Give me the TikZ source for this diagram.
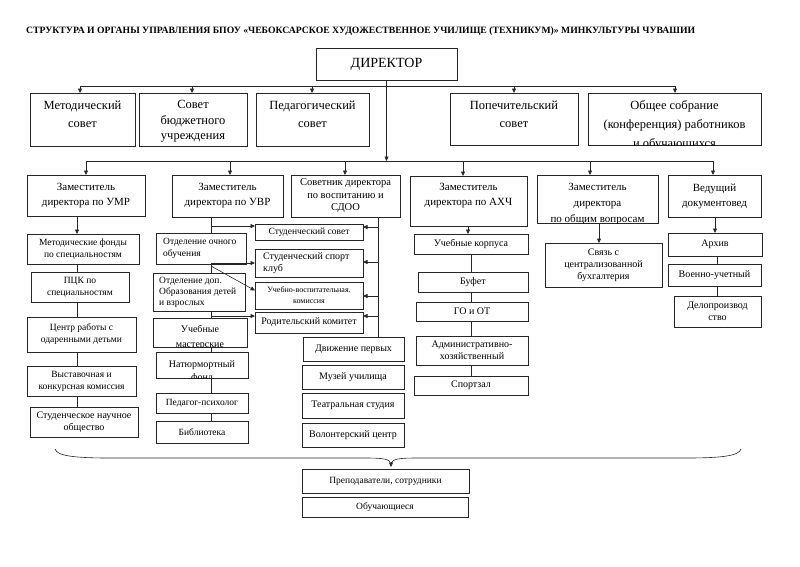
\documentclass[tikz,border=0pt]{standalone}
\usepackage{fontspec}
\setmainfont{Liberation Serif}
\usepackage{graphicx}
\usetikzlibrary{arrows.meta,calc}
\newcommand{\FSz}[2]{\fontsize{#1}{#2}\selectfont}
\newcommand{\OBox}[5]{\node[bx, minimum width={#4-#2}, minimum height={#5-#3}] (#1) at ({(#2+#4)/2},{(#3+#5)/2}) {};}
\begin{document}
\begin{tikzpicture}[x=1pt,y=-1pt,
  bx/.style={draw=black!85, line width=0.6pt, fill=white, inner sep=0pt, outer sep=0pt},
  tx/.style={inner sep=0pt, align=center},
  ln/.style={draw=black!85, line width=0.6pt},
  arr/.style={ln, -{Triangle[length=4.5pt,width=4pt]}},
  ctx/.style={tx, anchor=north, font=\FSz{12.5}{18}},
  ztx/.style={tx, font=\FSz{11}{15}},
  stx/.style={tx, font=\FSz{9.5}{12}},
  ltx/.style={tx, align=left, anchor=west, font=\FSz{9.5}{12}}]
\useasboundingbox (0,0) rectangle (800,566);

% title
\node[inner sep=0pt, anchor=west] (title) at (26,31) {\resizebox{669pt}{!}{\bfseries СТРУКТУРА И ОРГАНЫ УПРАВЛЕНИЯ БПОУ «ЧЕБОКСАРСКОЕ ХУДОЖЕСТВЕННОЕ УЧИЛИЩЕ (ТЕХНИКУМ)» МИНКУЛЬТУРЫ ЧУВАШИИ}};

% director
\OBox{dir}{316}{48}{457}{80}
\node[tx, font=\FSz{14}{16}] (dirt) at (dir) {ДИРЕКТОР};

% councils
\OBox{c1}{30}{93}{135}{146}
\OBox{c2}{139}{93}{247}{146}
\OBox{c3}{256}{93}{369}{146}
\OBox{c4}{450}{93}{578}{145}
\OBox{c5}{588}{93}{761}{145}
\node[ctx] (c1t) at ($(c1.north)+(0,7.5)$) {Методический\\совет};
\node[ctx, font=\FSz{12.5}{15.5}] (c2t) at ($(c2.north)+(0,7.5)$) {Совет\\бюджетного\\учреждения};
\node[ctx] (c3t) at ($(c3.north)+(0,7.5)$) {Педагогический\\совет};
\node[ctx] (c4t) at ($(c4.north)+(0,7.5)$) {Попечительский\\совет};
\begin{scope}
\clip (c5.south west) rectangle (c5.north east);
\node[ctx, font=\FSz{12.5}{19}] (c5t) at ($(c5.north)+(0,7.5)$) {Общее собрание\\(конференция) работников\\и обучающихся};
\end{scope}

% bus 1
\coordinate (k1) at (80,86);
\coordinate (k2) at (192,86);
\coordinate (k3) at (312,86);
\coordinate (k4) at (514,86);
\coordinate (k5) at (675,86);
\draw[ln] (k1) -- (k5);
\draw[arr] (k1) -- (k1 |- c1.north);
\draw[arr] (k2) -- (k2 |- c2.north);
\draw[arr] (k3) -- (k3 |- c3.north);
\draw[arr] (k4) -- (k4 |- c4.north);
\draw[arr] (k5) -- (k5 |- c5.north);

% bus 2
\coordinate (q1) at (86,161);
\coordinate (q2) at (230,161);
\coordinate (q3) at (345,161);
\coordinate (q4) at (463,161);
\coordinate (q5) at (590,161);
\coordinate (q6) at (713,161);
\draw[ln] (q1) -- (q6);
\draw[arr] (dir.south) -- (dir.south |- q1);

% deputies
\OBox{z1}{27}{175}{145}{216}
\OBox{z2}{172}{175}{283}{217}
\OBox{z3}{291}{175}{400}{217}
\OBox{z4}{410}{176}{527}{226}
\OBox{z5}{537}{175}{658}{223}
\OBox{z6}{668}{175}{761}{217}
\node[ztx] (z1t) at (z1) {Заместитель\\директора по УМР};
\node[ztx] (z2t) at (z2) {Заместитель\\директора по УВР};
\node[tx, font=\FSz{10.5}{12.5}] (z3t) at (z3) {Советник директора\\по воспитанию и\\СДОО};
\node[ztx, anchor=north] (z4t) at ($(z4.north)+(0,7.5)$) {Заместитель\\директора по АХЧ};
\begin{scope}
\clip (z5.south west) rectangle (z5.north east);
\node[ztx, font=\FSz{11}{16}, anchor=north] (z5t) at ($(z5.north)+(0,8)$) {Заместитель\\директора\\по общим вопросам};
\end{scope}
\node[ztx] (z6t) at (z6) {Ведущий\\документовед};
\draw[arr] (q1) -- (q1 |- z1.north);
\draw[arr] (q2) -- (q2 |- z2.north);
\draw[arr] (q3) -- (q3 |- z3.north);
\draw[arr] (q4) -- (q4 |- z4.north);
\draw[arr] (q5) -- (q5 |- z5.north);
\draw[arr] (q6) -- (q6 |- z6.north);

% UMR column
\OBox{m1}{27}{234}{139}{264}
\OBox{m2}{31}{272}{129}{302}
\OBox{m3}{27}{317}{136}{352}
\OBox{m4}{27}{366}{136}{396}
\OBox{m5}{30}{407}{138}{437}
\node[stx] (m1t) at (m1) {Методические фонды\\по специальностям};
\node[stx] (m2t) at (m2) {ПЦК по\\специальностям};
\node[stx] (m3t) at (m3) {Центр работы с\\одаренными детьми};
\node[stx] (m4t) at (m4) {Выставочная и\\конкурсная комиссия};
\node[stx, font=\FSz{10}{12}] (m5t) at (m5) {Студенческое научное\\общество};
\coordinate (ux) at (77,0);
\draw[arr] (z1.south -| ux) -- (m1.north -| ux);
\draw[ln] (m1.south -| ux) -- (m2.north -| ux);
\draw[ln] (m2.south -| ux) -- (m3.north -| ux);
\draw[ln] (m3.south -| ux) -- (m4.north -| ux);
\draw[ln] (m4.south -| ux) -- (m5.north -| ux);

% UVR column
\OBox{v1}{156}{233}{246}{264}
\OBox{v2}{153}{273}{245}{311}
\OBox{v3}{153}{318}{247}{347}
\OBox{v4}{156}{352}{248}{378}
\OBox{v5}{156}{393}{248}{413}
\OBox{v6}{156}{421}{248}{443}
\node[ltx] (v1t) at ($(v1.west)+(7,0)$) {Отделение очного\\обучения};
\node[ltx, font=\FSz{9.5}{11}] (v2t) at ($(v2.west)+(6,0)$) {Отделение доп.\\Образования детей\\и взрослых};
\begin{scope}
\clip (v3.south west) rectangle (v3.north east);
\node[stx, font=\FSz{10}{14.5}, anchor=north] (v3t) at ($(v3.north)+(0,7.5)$) {Учебные\\мастерские};
\end{scope}
\begin{scope}
\clip (v4.south west) rectangle (v4.north east);
\node[stx, font=\FSz{10}{13}, anchor=north] (v4t) at ($(v4.north)+(0,8.4)$) {Натюрмортный\\фонд};
\end{scope}
\node[stx] (v5t) at (v5) {Педагог-психолог};
\node[stx] (v6t) at (v6) {Библиотека};
\coordinate (vx) at (211,0);
\draw[ln] (z2.south -| vx) -- (v1.north -| vx);
\draw[ln] (v1.south -| vx) -- (v2.north -| vx);
\draw[ln] (v2.south -| vx) -- (v3.north -| vx);
\draw[ln] (v3.south -| vx) -- (v4.north -| vx);
\draw[ln] (v4.south -| vx) -- (v5.north -| vx);
\draw[ln] (v5.south -| vx) -- (v6.north -| vx);

% student bodies
\OBox{s1}{255}{224}{363}{240}
\OBox{s2}{255}{249}{363}{277}
\OBox{s3}{255}{282}{363}{309}
\OBox{s4}{255}{312}{363}{333}
\node[stx] (s1t) at (s1) {Студенческий совет};
\node[ltx, font=\FSz{10}{12}] (s2t) at ($(s2.west)+(8,0)$) {Студенческий спорт\\клуб};
\node[tx, font=\FSz{8}{11}] (s3t) at (s3) {Учебно-воспитательная.\\комиссия};
\node[stx, font=\FSz{10}{12}] (s4t) at (s4) {Родительский комитет};
\coordinate (u1) at (211,226);
\coordinate (u2) at (211,263);
\coordinate (u3) at (211,266);
\coordinate (u4) at (211,316);
\draw[arr] (u1) -- (u1 -| s1.west);
\draw[arr] (u2) -- (u2 -| s2.west);
\draw[arr] (u3) -- ($(s3.west)+(0,-5)$);
\draw[arr] (u4) -- (u4 -| s4.west);

% advisor column
\OBox{a1}{303}{337}{404}{361}
\OBox{a2}{302}{365}{404}{389}
\OBox{a3}{302}{393}{404}{418}
\OBox{a4}{302}{423}{404}{447}
\node[stx, font=\FSz{10}{12}] (a1t) at (a1) {Движение первых};
\node[stx, font=\FSz{10}{12}] (a2t) at (a2) {Музей училища};
\node[stx, font=\FSz{10}{12}] (a3t) at (a3) {Театральная студия};
\node[stx, font=\FSz{10}{12}] (a4t) at (a4) {Волонтерский центр};
\coordinate (sx) at (378,0);
\draw[ln] (z3.south -| sx) -- (a1.north -| sx);
\coordinate (w1) at (378,227);
\coordinate (w2) at (378,262);
\coordinate (w3) at (378,296);
\coordinate (w4) at (378,316);
\draw[arr] (w1) -- (w1 -| s1.east);
\draw[arr] (w2) -- (w2 -| s2.east);
\draw[arr] (w3) -- (w3 -| s3.east);
\draw[arr] (w4) -- (w4 -| s4.east);

% AXCh column
\OBox{x1}{414}{234}{528}{254}
\OBox{x2}{418}{272}{528}{292}
\OBox{x3}{416}{302}{528}{321}
\OBox{x4}{416}{336}{528}{365}
\OBox{x5}{414}{376}{528}{395}
\node[stx, font=\FSz{10}{12}] (x1t) at (x1) {Учебные корпуса};
\node[stx, font=\FSz{10}{12}] (x2t) at (x2) {Буфет};
\node[stx, font=\FSz{10}{12}] (x3t) at (x3) {ГО и ОТ};
\node[stx, font=\FSz{10}{12}] (x4t) at (x4) {Административно-\\хозяйственный};
\node[stx, font=\FSz{10}{12}] (x5t) at (x5) {Спортзал};
\coordinate (hx) at (468,0);
\coordinate (hy) at (471,0);
\draw[arr] (z4.south -| hx) -- (x1.north -| hx);
\draw[ln] (x1.south -| hy) -- (x2.north -| hy);
\draw[ln] (x2.south -| hy) -- (x3.north -| hy);
\draw[ln] (x3.south -| hy) -- (x4.north -| hy);
\draw[ln] (x4.south -| hy) -- (x5.north -| hy);

% general questions
\OBox{g1}{545}{243}{662}{287}
\node[stx, font=\FSz{10}{12}] (g1t) at (g1) {Связь с\\централизованной\\бухгалтерия};
\coordinate (gx) at (599,0);
\draw[arr] (z5.south -| gx) -- (g1.north -| gx);

% documents
\OBox{d1}{668}{233}{762}{256}
\OBox{d2}{668}{264}{761}{286}
\OBox{d3}{674}{296}{761}{327}
\node[stx, font=\FSz{10}{12}] (d1t) at (d1) {Архив};
\node[stx, font=\FSz{10}{12}] (d2t) at (d2) {Военно-учетный};
\node[stx, font=\FSz{10}{12}] (d3t) at (d3) {Делопроизвод\\ство};
\coordinate (dx) at (715,0);
\coordinate (dy) at (717,0);
\draw[arr] (z6.south -| dx) -- (d1.north -| dx);
\draw[ln] (d1.south -| dy) -- (d2.north -| dy);
\draw[ln] (d2.south -| dy) -- (d3.north -| dy);

% brace
\coordinate (brL) at (55,449);
\coordinate (brR) at (741,449);
\coordinate (brT) at (391,464);
\draw[ln] (brL) .. controls (57,456) and (75,458) .. (110,458) -- (365,458) .. controls (384,458) and (390,459) .. (brT);
\draw[ln] (brR) .. controls (739,456) and (721,458) .. (686,458) -- (417,458) .. controls (398,458) and (392,459) .. (brT);
\draw[arr] ($(brT)+(0,-2)$) -- ($(brT)+(0,3)$);

% bottom
\OBox{p1}{302}{469}{469}{493}
\OBox{p2}{302}{497}{468}{517}
\node[stx] (p1t) at (p1) {Преподаватели, сотрудники};
\node[stx] (p2t) at (p2) {Обучающиеся};
\end{tikzpicture}
\end{document}
